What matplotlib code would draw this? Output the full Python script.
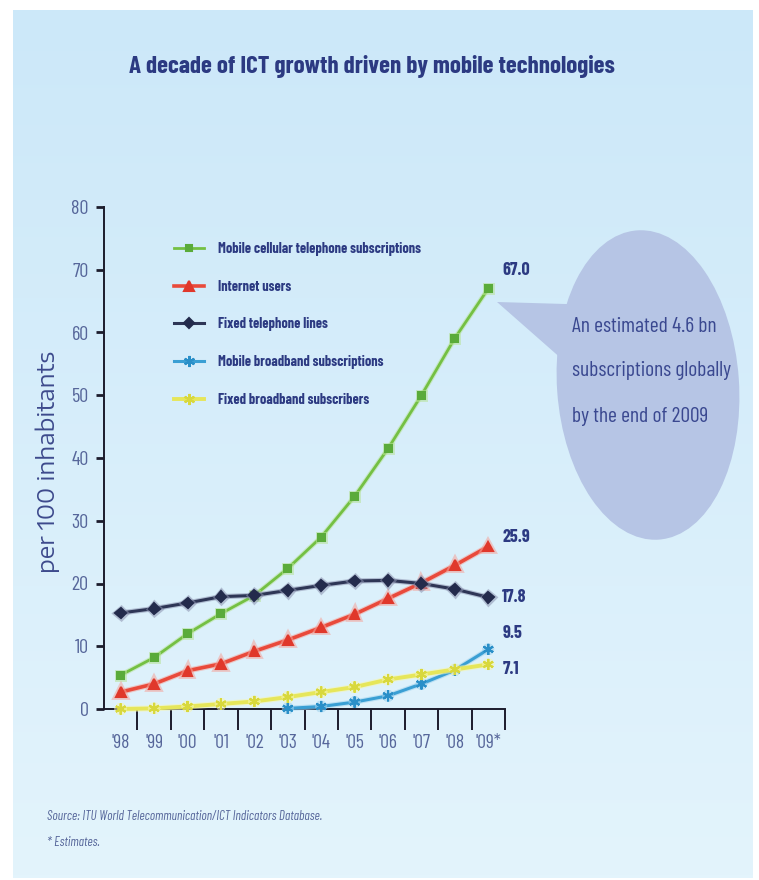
import numpy as np
import matplotlib
matplotlib.use("Agg")
import matplotlib.pyplot as plt
from matplotlib import font_manager as fm
from matplotlib.patches import Ellipse, Polygon
from matplotlib.colors import LinearSegmentedColormap
from matplotlib.lines import Line2D
import matplotlib.patheffects as pe

# ---- data (per 100 inhabitants) ----
years = ["'98", "'99", "'00", "'01", "'02", "'03", "'04", "'05", "'06", "'07", "'08", "'09*"]
mobile_cellular = [5.4, 8.2, 12.0, 15.2, 18.1, 22.4, 27.4, 33.9, 41.5, 50.0, 59.1, 67.0]
internet_users = [2.7, 4.0, 6.1, 7.2, 9.2, 11.0, 13.0, 15.1, 17.6, 20.1, 22.9, 25.9]
fixed_telephone = [15.3, 16.0, 16.9, 17.9, 18.1, 18.9, 19.7, 20.4, 20.5, 20.0, 19.1, 17.8]
mobile_broadband = [np.nan, np.nan, np.nan, np.nan, np.nan, 0.1, 0.4, 1.1, 2.1, 4.0, 6.2, 9.5]
fixed_broadband = [0.0, 0.1, 0.4, 0.8, 1.2, 1.9, 2.7, 3.5, 4.7, 5.5, 6.3, 7.1]
series_names = ["Mobile cellular telephone subscriptions", "Internet users",
                "Fixed telephone lines", "Mobile broadband subscriptions",
                "Fixed broadband subscribers"]
y_ticks = [0, 10, 20, 30, 40, 50, 60, 70, 80]

available = {f.name for f in fm.fontManager.ttflist}


def first_family(*names):
    for n in names:
        if n in available:
            return n
    return "DejaVu Sans"


COND = first_family("Barlow Condensed", "Encode Sans Condensed")
WIDE = first_family("Encode Sans Expanded", "DejaVu Sans")
NAVY = "#2c3a82"
SOFT = "#56669a"

W, H = 759, 880
fig = plt.figure(figsize=(W / 100, H / 100), dpi=100)
fig.patch.set_facecolor("white")

# background layer in pixel coordinates
bg = fig.add_axes([0, 0, 1, 1])
bg.set_xlim(0, W)
bg.set_ylim(H, 0)
bg.axis("off")
grad = np.linspace(0, 1, 256).reshape(-1, 1)
cmap = LinearSegmentedColormap.from_list("panel", ["#cce8f9", "#e3f4fc"])
bg.imshow(grad, extent=(13, 753, 878, 10), aspect="auto", cmap=cmap, zorder=0)

bg.text(372, 66, "A decade of ICT growth driven by mobile technologies",
        ha="center", va="center", fontsize=18, fontweight="bold",
        color=NAVY, family=COND)

# speech bubble
bubble_col = "#b6c5e5"
bg.add_patch(Polygon([(497, 302), (600, 305), (580, 375)], closed=True,
                     facecolor=bubble_col, edgecolor="none", zorder=2))
bg.add_patch(Ellipse((648, 385), 182, 310, angle=-4, facecolor=bubble_col,
                     edgecolor="none", zorder=2))
for txt, yy in [("An estimated 4.6 bn", 326), ("subscriptions globally", 371),
                ("by the end of 2009", 416)]:
    bg.text(572, yy, txt, ha="left", va="center", fontsize=15.5,
            color="#3a4890", family=COND, zorder=3)

bg.text(47, 817, "Source: ITU World Telecommunication/ICT Indicators Database.",
        ha="left", va="center", fontsize=9.5, style="italic", color=SOFT, family=COND)
bg.text(47, 843, "* Estimates.", ha="left", va="center", fontsize=9.5,
        style="italic", color=SOFT, family=COND)

fig.text(48 / W, 1 - 462 / H, "per 100 inhabitants", rotation=90,
         ha="center", va="center", fontsize=16.5, color="#3d4a8c", family=WIDE)

# ---- chart axes ----
ax = fig.add_axes([104 / W, 1 - 709 / H, 401 / W, 502 / H])
ax.patch.set_alpha(0)
x = np.arange(len(years))

styles = [
    (mobile_cellular, "#74c043", "#5aab3a", "s", 5, 2.0, "#b8e39a"),
    (internet_users, "#e94a3b", "#e0382b", "^", 7, 2.6, "#f4a39a"),
    (fixed_telephone, "#2e3656", "#232b4c", "D", 5.5, 2.2, "#8c93b0"),
    (mobile_broadband, "#3a9fd4", "#2a8fc8", (6, 2, 0), 8, 2.2, "#9fd2ee"),
    (fixed_broadband, "#e6e65a", "#d8d83c", (6, 2, 0), 8, 2.8, "#f6f6b0"),
]
handles = []
for (vals, lc, mc, mk, ms, lw, glow), name in zip(styles, series_names):
    ax.plot(x, vals, color=lc, lw=lw, marker=mk, markersize=ms,
            markerfacecolor=mc, markeredgecolor=mc, markeredgewidth=1.5,
            zorder=3, clip_on=False,
            path_effects=[pe.Stroke(linewidth=lw + 1.6, foreground=glow, alpha=0.55),
                          pe.Normal()])
    handles.append(Line2D([], [], color=lc, lw=lw, marker=mk, markersize=ms,
                          markerfacecolor=mc, markeredgecolor=mc,
                          markeredgewidth=1.5, label=name))

ax.set_xlim(-0.5, len(years) - 0.5)
ax.set_ylim(0, 80)
for s in ("top", "right"):
    ax.spines[s].set_visible(False)
for s in ("left", "bottom"):
    ax.spines[s].set_color("#1c1c2c")
    ax.spines[s].set_linewidth(1.4)

ax.set_yticks(y_ticks)
ax.set_yticklabels([str(v) for v in y_ticks], family=COND, fontsize=14.5,
                   color=SOFT)
ax.tick_params(axis="y", direction="out", length=6, width=2, color="#1c1c2c", pad=5)

ax.set_xticks(x + 0.5)
ax.set_xticklabels([])
ax.tick_params(axis="x", which="major", direction="out", length=15, width=1.4,
               color="#1c1c2c")
ax.set_xticks(x, minor=True)
ax.set_xticklabels(years, minor=True, family=COND, fontsize=14,
                   color=SOFT)
ax.tick_params(axis="x", which="minor", length=0, pad=18)

# end-of-series value labels
offsets = [18, 9, 0, 16, -5]
for (vals, *_), dy in zip(styles, offsets):
    v = vals[-1]
    ax.annotate(f"{v:.1f}", xy=(x[-1], v), xytext=(14, dy),
                textcoords="offset pixels", ha="left", va="center",
                fontsize=13, fontweight="bold", color=NAVY, family=COND,
                annotation_clip=False)

leg = ax.legend(handles=handles, loc="upper left",
                bbox_to_anchor=(174 / W, 1 - 242 / H), bbox_transform=fig.transFigure,
                frameon=False, borderpad=0, borderaxespad=0, handlelength=2.1,
                handletextpad=1.0, labelspacing=1.66,
                prop={"family": COND, "weight": "bold", "size": 10.3})
for t in leg.get_texts():
    t.set_color(NAVY)

fig.savefig("out.png", dpi=100, facecolor=fig.get_facecolor())
